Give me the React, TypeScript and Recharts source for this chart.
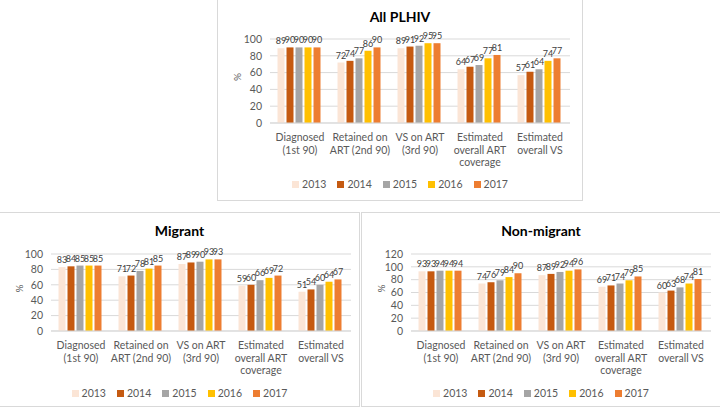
import { BarChart, Bar, XAxis, YAxis, CartesianGrid, LabelList } from 'recharts'

const CATEGORIES = [
    'Diagnosed\n(1st 90)',
    'Retained on\nART (2nd 90)',
    'VS on ART\n(3rd 90)',
    'Estimated\noverall ART\ncoverage',
    'Estimated\noverall VS',
]
const YEARS = ['2013', '2014', '2015', '2016', '2017']
const COLORS = ['#FBE5D6', '#C55A11', '#A5A5A5', '#FFC000', '#ED7D31']

// All PLHIV, one array per year (same order as CATEGORIES)
const ALL_2013 = [89, 72, 89, 64, 57]
const ALL_2014 = [90, 74, 91, 67, 61]
const ALL_2015 = [90, 77, 92, 69, 64]
const ALL_2016 = [90, 86, 95, 77, 74]
const ALL_2017 = [90, 90, 95, 81, 77]

// Migrant
const MIG_2013 = [83, 71, 87, 59, 51]
const MIG_2014 = [84, 72, 89, 60, 54]
const MIG_2015 = [85, 78, 90, 66, 60]
const MIG_2016 = [85, 81, 93, 69, 64]
const MIG_2017 = [85, 85, 93, 72, 67]

// Non-migrant
const NON_2013 = [93, 74, 87, 69, 60]
const NON_2014 = [93, 76, 89, 71, 63]
const NON_2015 = [94, 79, 92, 74, 68]
const NON_2016 = [94, 84, 94, 79, 74]
const NON_2017 = [94, 90, 96, 85, 81]

const TICKS_100 = [0, 20, 40, 60, 80, 100]
const TICKS_120 = [0, 20, 40, 60, 80, 100, 120]

const FONT = 'Lato, "Open Sans", sans-serif'

function buildRows(series: number[][]) {
    return CATEGORIES.map((name, i) => {
        const row: Record<string, string | number> = { name }
        YEARS.forEach((y, k) => { row[y] = series[k][i] })
        return row
    })
}

function CategoryTick({ x, y, payload }: any) {
    const lines = String(payload.value).split('\n')
    return (
        <text x={x} y={y} textAnchor="middle" fill="#595959" fontSize={10.5} fontFamily={FONT}>
            {lines.map((l, i) => (
                <tspan key={i} x={x} dy={i === 0 ? 10 : 12.5}>{l}</tspan>
            ))}
        </text>
    )
}

interface PanelProps {
    title: string
    series: number[][]
    ticks: number[]
    left: number
    top: number
    width: number
    height: number
    plotLeft: number
    plotRight: number
    plotTop: number
    plotBottom: number
    titleY: number
    legendY: number
}

function Panel(p: PanelProps) {
    const data = buildRows(p.series)
    const xAxisHeight = 45
    return (
        <div style={{
            position: 'absolute', left: p.left, top: p.top, width: p.width, height: p.height,
            border: '1px solid #D9D9D9', boxSizing: 'border-box', background: '#fff', fontFamily: FONT,
        }}>
            <div style={{
                position: 'absolute', left: 0, width: '100%', top: p.titleY - 9, textAlign: 'center',
                fontWeight: 700, fontSize: 14, color: '#000', lineHeight: '18px',
            }}>{p.title}</div>
            <BarChart
                width={p.width}
                height={p.height}
                data={data}
                barCategoryGap="12.5%"
                barGap={2}
                margin={{ top: p.plotTop, right: p.width - p.plotRight, left: 0, bottom: p.height - p.plotBottom - xAxisHeight }}
            >
                <CartesianGrid vertical={false} stroke="#D9D9D9" />
                <XAxis
                    dataKey="name"
                    interval={0}
                    height={xAxisHeight}
                    tickLine={false}
                    axisLine={{ stroke: '#D9D9D9' }}
                    tick={<CategoryTick />}
                />
                <YAxis
                    width={p.plotLeft}
                    domain={[0, p.ticks[p.ticks.length - 1]]}
                    ticks={p.ticks}
                    interval={0}
                    tickLine={false}
                    axisLine={false}
                    tick={{ fill: '#595959', fontSize: 10.5, fontFamily: FONT }}
                    label={{ value: '%', angle: -90, position: 'insideLeft', offset: 19, fill: '#595959', fontSize: 10 }}
                />
                {YEARS.map((y, k) => (
                    <Bar key={y} dataKey={y} fill={COLORS[k]} isAnimationActive={false}>
                        <LabelList dataKey={y} position="top" offset={4} fill="#404040" fontSize={9} fontFamily={FONT} />
                    </Bar>
                ))}
            </BarChart>
            <div style={{
                position: 'absolute', left: 0, width: '100%', top: p.legendY - 7, display: 'flex',
                justifyContent: 'center', gap: 11, fontSize: 10.5, color: '#595959', lineHeight: '14px',
            }}>
                {YEARS.map((y, k) => (
                    <div key={y} style={{ display: 'flex', alignItems: 'center', gap: 3 }}>
                        <span style={{ width: 7, height: 7, background: COLORS[k], display: 'inline-block' }} />
                        <span>{y}</span>
                    </div>
                ))}
            </div>
        </div>
    )
}

export default function App() {
    return (
        <div style={{ position: 'absolute', left: 0, top: 0, width: 720, height: 410, background: '#fff', overflow: 'hidden' }}>
            <Panel
                title="All PLHIV"
                series={[ALL_2013, ALL_2014, ALL_2015, ALL_2016, ALL_2017]}
                ticks={TICKS_100}
                left={217} top={-1} width={366} height={202}
                plotLeft={52} plotRight={352} plotTop={39} plotBottom={123}
                titleY={17} legendY={184}
            />
            <Panel
                title="Migrant"
                series={[MIG_2013, MIG_2014, MIG_2015, MIG_2016, MIG_2017]}
                ticks={TICKS_100}
                left={-1} top={212} width={361} height={195}
                plotLeft={51} plotRight={351} plotTop={41} plotBottom={118}
                titleY={18} legendY={180}
            />
            <Panel
                title="Non-migrant"
                series={[NON_2013, NON_2014, NON_2015, NON_2016, NON_2017]}
                ticks={TICKS_120}
                left={361} top={212} width={360} height={195}
                plotLeft={49} plotRight={349} plotTop={41} plotBottom={118}
                titleY={18} legendY={180}
            />
        </div>
    )
}
